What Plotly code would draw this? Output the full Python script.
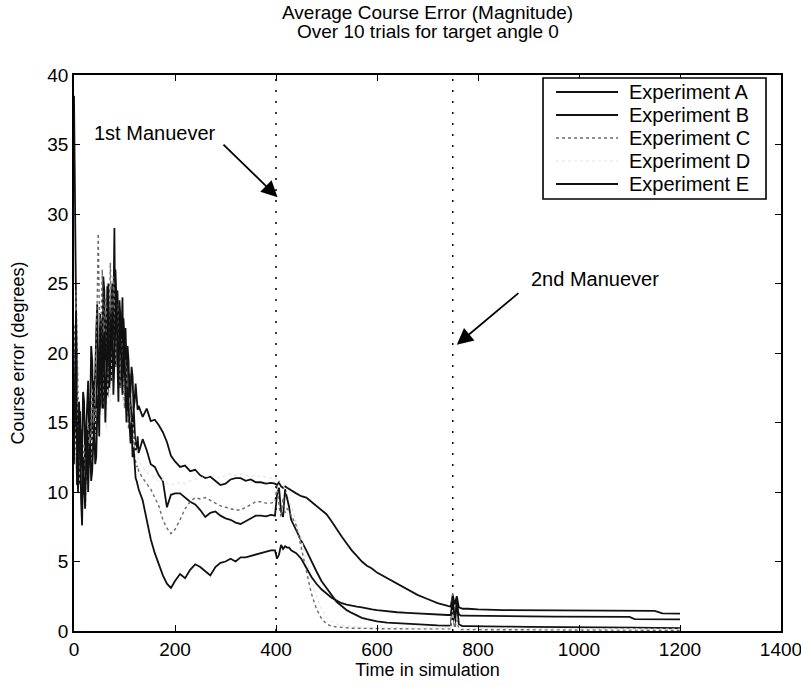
import plotly.graph_objects as go

# Simulation time stamps shared by all experiments
# (every 2 steps during the noisy start, coarser afterwards)
time = list(range(0, 130, 2)) + [
    136, 144, 152, 160, 168, 176, 184, 192, 200, 210, 220, 230, 240, 250, 260,
    270, 280, 290, 300, 310, 320, 330, 340, 350, 360, 370, 380, 390, 398,
    402, 406, 410, 414, 418, 422, 426, 430, 440,
    450, 460, 470, 480, 490, 500, 510, 520, 530, 540, 550, 560, 570, 580, 590,
    600, 620, 640, 660, 680, 700, 720, 740,
    746, 750, 754, 758, 762, 766, 770, 780,
    800, 850, 900, 950, 1000, 1050, 1100, 1110, 1150, 1165, 1200,
]

# Average course error (degrees) per experiment
exp_a = [
    12.0, 17.5, 14.5, 10.5, 11.2, 13.0, 15.8, 11.8, 13.0, 17.2, 16.5, 12.5, 14.2,
    16.8, 18.0, 14.0, 15.5, 20.5, 19.5, 16.0, 17.0, 18.5, 21.5, 23.5, 18.5, 17.5,
    22.8, 21.0, 19.0, 25.5, 24.5, 19.5, 21.0, 24.8, 23.5, 18.5, 20.2, 24.0, 25.0,
    21.0, 22.0, 26.0, 24.0, 20.5, 19.5, 23.8, 22.5, 18.0, 18.8, 22.5, 21.0, 17.5,
    18.0, 20.5, 19.5, 16.8, 17.2, 19.0, 18.3, 16.0, 16.5, 17.8, 17.0, 15.9, 16.2,
    15.4, 16.0, 15.1, 15.2, 14.8, 14.3, 13.6, 12.6, 12.2, 11.8, 11.9, 11.5, 11.6,
    11.2, 11.0, 11.1, 10.8, 10.5, 10.6, 10.9, 11.0, 11.0, 10.8, 10.9, 10.7, 10.7,
    10.6, 10.65, 10.6,
    10.5, 10.7, 10.4, 10.3, 10.4, 10.3, 10.2, 10.1, 9.9,
    9.7, 9.6, 9.3, 9.0, 8.7, 8.4, 7.9, 7.3, 6.8, 6.3, 5.8, 5.4, 5.0, 4.7, 4.5,
    4.2, 3.8, 3.4, 3.0, 2.6, 2.3, 2.0, 1.8,
    1.75, 2.6, 1.9, 2.5, 1.7, 1.65, 1.6, 1.6,
    1.55, 1.5, 1.5, 1.47, 1.46, 1.46, 1.45, 1.45, 1.45, 1.27, 1.25,
]
exp_b = [
    38.5, 31.0, 20.5, 16.0, 13.5, 11.5, 10.5, 14.5, 12.8, 9.8, 11.0, 13.5, 14.0,
    10.8, 12.2, 16.2, 15.8, 12.5, 13.5, 18.0, 17.5, 14.2, 15.0, 19.0, 20.0, 15.5,
    16.5, 21.0, 22.5, 16.0, 18.0, 22.5, 21.5, 16.8, 17.8, 21.8, 23.0, 18.0, 19.5,
    22.5, 29.0, 19.0, 20.5, 24.5, 22.0, 17.5, 18.0, 21.5, 24.0, 18.2, 19.5, 21.8,
    17.5, 16.2, 15.8, 18.5, 16.5, 15.0, 14.0, 16.2, 14.8, 13.0, 13.2, 14.0, 12.8,
    13.8, 13.0, 12.0, 11.8, 11.2, 10.8, 8.9, 9.8, 9.9, 9.9, 9.6, 9.3, 9.1, 8.7,
    8.2, 8.5, 8.6, 8.3, 8.1, 8.0, 7.8, 7.7, 7.9, 8.1, 8.3, 8.3, 8.25, 8.35, 8.3,
    9.8, 10.3, 8.6, 8.2, 10.2, 9.6, 8.9, 8.0, 7.2,
    6.5, 5.8, 5.0, 4.3, 3.6, 3.1, 2.6, 2.1, 1.8, 1.5, 1.3, 1.1, 0.95, 0.85, 0.75,
    0.7, 0.6, 0.55, 0.5, 0.45, 0.42, 0.4, 0.38,
    0.4, 1.8, 0.3, 2.2, 0.5, 0.4, 0.35, 0.35,
    0.33, 0.32, 0.3, 0.3, 0.28, 0.27, 0.26, 0.25, 0.22, 0.2, 0.2,
]
exp_c = [
    22.0, 18.0, 24.5, 20.0, 16.0, 13.8, 12.5, 10.5, 9.0, 12.0, 13.5, 11.5, 10.5,
    13.8, 15.0, 12.8, 12.0, 15.5, 17.5, 15.0, 14.0, 18.0, 20.5, 24.0, 28.6, 21.0,
    18.5, 23.0, 26.0, 21.5, 20.0, 24.0, 23.5, 20.5, 18.5, 23.0, 26.5, 22.5, 21.0,
    25.5, 24.0, 20.5, 19.5, 23.5, 22.5, 19.0, 17.5, 21.0, 20.5, 17.8, 16.0, 19.5,
    18.5, 16.5, 14.5, 16.8, 15.5, 14.0, 13.0, 14.2, 12.5, 12.2, 11.8, 11.9, 11.5,
    11.0, 10.6, 10.2, 9.6, 9.0, 8.0, 7.4, 7.0, 7.3, 8.0, 8.8, 9.3, 9.6, 9.5, 9.6,
    9.4, 9.2, 9.0, 8.9, 8.8, 8.7, 8.7, 8.9, 9.1, 9.3, 9.3, 9.2, 9.2, 9.3,
    10.4, 9.0, 8.2, 9.6, 8.5, 8.8, 8.6, 8.3, 7.6,
    6.0, 4.3, 2.7, 1.6, 0.9, 0.5, 0.35, 0.3, 0.25, 0.22, 0.2, 0.2, 0.18, 0.18,
    0.17, 0.17, 0.16, 0.16, 0.15, 0.15, 0.15, 0.15, 0.15,
    0.15, 2.8, 0.2, 0.8, 0.15, 0.1, 0.1, 0.1,
    0.1, 0.1, 0.08, 0.08, 0.08, 0.06, 0.06, 0.06, 0.05, 0.05, 0.05,
]
exp_d = [
    16.0, 14.0, 12.5, 15.0, 18.0, 12.0, 9.5, 8.5, 7.5, 10.0, 11.5, 10.2, 9.0,
    11.0, 13.0, 12.0, 11.0, 12.8, 14.5, 13.5, 12.5, 14.2, 16.0, 15.0, 14.0, 16.2,
    18.5, 17.0, 15.5, 17.8, 20.0, 17.2, 14.6, 16.8, 19.0, 17.8, 16.5, 19.0, 21.5,
    19.8, 18.0, 20.2, 22.5, 19.8, 17.0, 18.5, 20.0, 18.2, 16.5, 17.5, 18.5, 17.0,
    15.5, 16.2, 16.8, 15.6, 14.5, 14.8, 15.0, 14.2, 13.5, 13.2, 12.8, 12.5, 12.2,
    11.8, 11.4, 11.2, 11.0, 10.8, 10.9, 10.6, 10.5, 10.6, 10.7, 10.6, 10.8, 10.9,
    11.0, 11.1, 11.2, 11.1, 11.0, 11.2, 11.3, 11.2, 11.3, 11.2, 11.1, 11.2, 11.1,
    11.1, 11.0, 11.0,
    10.9, 10.8, 10.6, 10.5, 10.2, 9.9, 9.5, 9.0, 7.8,
    6.6, 5.1, 3.7, 2.5, 1.6, 1.0, 0.7, 0.5, 0.4, 0.35, 0.3, 0.3, 0.28, 0.26,
    0.25, 0.25, 0.22, 0.22, 0.21, 0.21, 0.2, 0.2, 0.2,
    0.2, 1.5, 0.5, 0.3, 0.2, 0.2, 0.2, 0.2,
    0.2, 0.2, 0.18, 0.18, 0.17, 0.16, 0.15, 0.15, 0.14, 0.14, 0.13,
]
exp_e = [
    13.5, 20.0, 23.0, 12.5, 10.0, 16.5, 14.0, 9.5, 7.6, 12.5, 11.0, 8.8, 12.0,
    14.5, 10.0, 12.8, 13.5, 10.8, 11.5, 14.0, 15.0, 12.0, 12.5, 15.5, 17.0, 14.0,
    22.0, 19.0, 16.0, 20.5, 21.5, 15.0, 17.5, 20.0, 25.0, 17.5, 19.0, 22.0, 23.0,
    17.0, 20.0, 22.0, 24.5, 19.5, 16.5, 23.0, 21.0, 18.5, 17.0, 21.5, 19.0, 16.0,
    15.0, 17.5, 16.0, 14.5, 13.5, 15.0, 12.5, 13.2, 11.5, 11.0, 10.8, 10.5, 10.2,
    9.4, 8.0, 6.6, 5.6, 4.8, 4.0, 3.4, 3.1, 3.6, 4.1, 3.8, 4.4, 4.8, 4.6, 4.3,
    4.0, 4.6, 4.9, 5.0, 5.2, 5.0, 5.3, 5.3, 5.4, 5.5, 5.6, 5.7, 5.8, 5.8,
    5.2, 5.5, 6.2, 5.9, 6.1, 6.0, 6.0, 5.8, 5.6,
    5.2, 4.5, 3.9, 3.4, 3.0, 2.7, 2.4, 2.2, 2.0, 1.9, 1.8, 1.75, 1.7, 1.6, 1.55,
    1.5, 1.4, 1.35, 1.3, 1.25, 1.2, 1.18, 1.15,
    1.15, 2.3, 0.9, 1.9, 1.2, 1.1, 1.1, 1.1,
    1.08, 1.05, 1.05, 1.04, 1.03, 1.03, 1.02, 0.86, 0.85, 0.84, 0.84,
]

series_names = ["Experiment A", "Experiment B", "Experiment C",
                "Experiment D", "Experiment E"]
series_values = [exp_a, exp_b, exp_c, exp_d, exp_e]
series_styles = [
    dict(color="#111111", width=1.8, dash="solid"),
    dict(color="#111111", width=1.8, dash="solid"),
    dict(color="#6a6a6a", width=1.4, dash="dot"),
    dict(color="#e4e4e4", width=1.2, dash="dot"),
    dict(color="#111111", width=1.8, dash="solid"),
]

maneuver_times = [400, 750]
x_ticks = [0, 200, 400, 600, 800, 1000, 1200, 1400]
y_ticks = [0, 5, 10, 15, 20, 25, 30, 35, 40]

FONT = "Arial, Liberation Sans, Helvetica, sans-serif"

fig = go.Figure()
for name, vals, style in zip(series_names, series_values, series_styles):
    if len(vals) != len(time):
        raise ValueError(f"{name}: {len(vals)} values for {len(time)} times")
    fig.add_trace(go.Scatter(x=time, y=vals, mode="lines", name=name,
                             line=style, showlegend=False))

# Dotted vertical markers at the maneuver times
for t in maneuver_times:
    fig.add_shape(type="line", x0=t, x1=t, y0=0, y1=40, xref="x", yref="y",
                  line=dict(color="black", width=1.5, dash="2px,9px"))

# Boxed legend in the upper right corner
legend_left, legend_right = 0.6634, 0.9788
legend_top, legend_bottom = 0.9946, 0.7770
fig.add_shape(type="rect", xref="paper", yref="paper",
              x0=legend_left, x1=legend_right, y0=legend_bottom, y1=legend_top,
              line=dict(color="black", width=1.6), fillcolor="white", layer="above")
row_y = [0.9694, 0.9281, 0.8867, 0.8453, 0.8040]
for name, style, ry in zip(series_names, series_styles, row_y):
    fig.add_shape(type="line", xref="paper", yref="paper",
                  x0=0.6818, x1=0.7695, y0=ry, y1=ry,
                  line=dict(color=style["color"], width=style["width"],
                            dash=style["dash"]), layer="above")
    fig.add_annotation(x=0.7822, y=ry, xref="paper", yref="paper", text=name,
                       showarrow=False, xanchor="left", yanchor="middle",
                       font=dict(family=FONT, size=20, color="black"))

# Two-line title
for line_text, ty in [("Average Course Error (Magnitude)", 1.1133),
                      ("Over 10 trials for target angle 0", 1.0791)]:
    fig.add_annotation(x=0.5, y=ty, xref="paper", yref="paper", text=line_text,
                       showarrow=False, xanchor="center", yanchor="middle",
                       font=dict(family=FONT, size=19, color="black"))

# Maneuver call-outs
fig.add_annotation(x=161, y=35.8, xref="x", yref="y", text="1st Manuever",
                   showarrow=False, font=dict(family=FONT, size=20, color="black"))
fig.add_annotation(x=maneuver_times[0] + 3, y=31.2, ax=293, ay=35.1,
                   xref="x", yref="y", axref="x", ayref="y", text="",
                   showarrow=True, arrowhead=2, arrowsize=1.8, arrowwidth=1.8,
                   arrowcolor="black")
fig.add_annotation(x=1032, y=25.3, xref="x", yref="y", text="2nd Manuever",
                   showarrow=False, font=dict(family=FONT, size=20, color="black"))
fig.add_annotation(x=maneuver_times[1] + 8, y=20.6, ax=883, ay=24.4,
                   xref="x", yref="y", axref="x", ayref="y", text="",
                   showarrow=True, arrowhead=2, arrowsize=1.8, arrowwidth=1.8,
                   arrowcolor="black")

axis_common = dict(showline=True, linecolor="black", linewidth=1.6,
                   mirror="ticks", ticks="inside", ticklen=6, tickwidth=1.4,
                   tickcolor="black", showgrid=False, zeroline=False,
                   ticklabeloverflow="allow", automargin=False,
                   tickfont=dict(family=FONT, size=19, color="black"))

fig.update_layout(
    width=801, height=686,
    margin=dict(l=74, r=20, t=75, b=55, autoexpand=False),
    paper_bgcolor="white", plot_bgcolor="white",
    xaxis=dict(range=[0, 1400], tickvals=x_ticks,
               title=dict(text="Time in simulation", standoff=4,
                          font=dict(family=FONT, size=18, color="black")),
               **axis_common),
    yaxis=dict(range=[0, 40], tickvals=y_ticks,
               title=dict(text="Course error (degrees)", standoff=18,
                          font=dict(family=FONT, size=18, color="black")),
               **axis_common),
)

fig.write_html("out.html")
